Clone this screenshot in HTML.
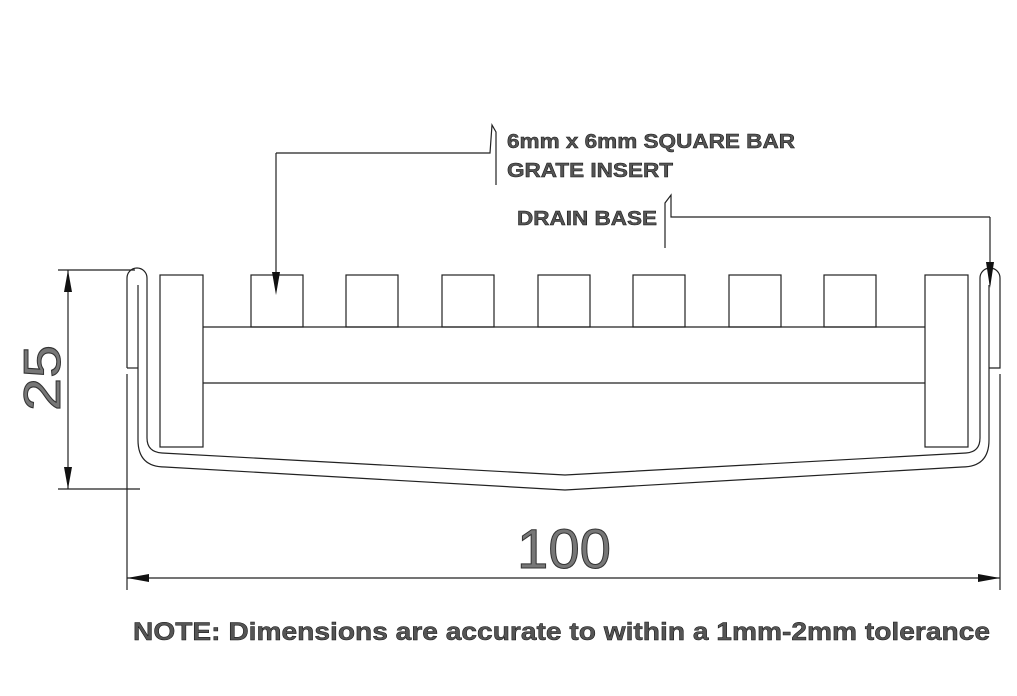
<!DOCTYPE html>
<html><head><style>html,body{margin:0;padding:0;background:#fff;}svg{display:block}</style></head>
<body>
<svg width="1017" height="696" viewBox="0 0 1017 696" xmlns="http://www.w3.org/2000/svg" font-family="Liberation Sans, sans-serif">
<g fill="none" stroke="#222" stroke-width="1.2">
<path d="M127,368 L127,278 A10,10 0 0 1 147,278 L147,438 Q147,452 162,453 L565,475 L966,453 Q980,452 980,438 L980,278 A10,10 0 0 1 1000,278 L1000,368 L989,368"/>
<path d="M127,368 L138,368"/>
<path d="M138,285 L138,440 Q138,467 165,467 L565,490 L962,467 Q989,467 989,440 L989,285"/>
<rect x="160" y="275" width="43" height="172"/>
<rect x="925" y="275" width="43" height="172"/>
<line x1="203" y1="327" x2="925" y2="327"/>
<line x1="203" y1="383" x2="925" y2="383"/>
<rect x="251" y="275" width="52" height="52"/>
<rect x="346" y="275" width="52" height="52"/>
<rect x="442" y="275" width="52" height="52"/>
<rect x="538" y="275" width="52" height="52"/>
<rect x="633" y="275" width="52" height="52"/>
<rect x="729" y="275" width="52" height="52"/>
<rect x="824" y="275" width="52" height="52"/>
<line x1="58" y1="270" x2="135" y2="270"/>
<line x1="58" y1="489" x2="140" y2="489"/>
<line x1="68" y1="270" x2="68" y2="489"/>
<line x1="127" y1="374" x2="127" y2="590"/>
<line x1="1000" y1="374" x2="1000" y2="590"/>
<line x1="127" y1="578" x2="1000" y2="578"/>
<path d="M276,153 L490,153 L492,125 L496,132 L496,185"/>
<line x1="276" y1="153" x2="276" y2="275"/>
<path d="M990,217 L671,217 L671,195 L665,203 L665,248"/>
<line x1="990" y1="217" x2="990" y2="285"/>
</g>
<g fill="#111">
<polygon points="68,270 64,292 72,292"/>
<polygon points="68,489 64,467 72,467"/>
<polygon points="127,578 149,574 149,582"/>
<polygon points="1000,578 978,574 978,582"/>
<polygon points="276,295 272,272 280,272"/>
<polygon points="990,288 986,262 994,262"/>
</g>
<g font-size="20" font-weight="bold" fill="#555" stroke="#111" stroke-width="0.5">
<text x="507" y="148" textLength="288" lengthAdjust="spacingAndGlyphs">6mm x 6mm SQUARE BAR</text>
<text x="507" y="177" textLength="166" lengthAdjust="spacingAndGlyphs">GRATE INSERT</text>
<text x="517" y="225" textLength="140" lengthAdjust="spacingAndGlyphs">DRAIN BASE</text>
<text x="133" y="640" font-size="25" textLength="857" lengthAdjust="spacingAndGlyphs">NOTE: Dimensions are accurate to within a 1mm-2mm tolerance</text>
</g>
<g fill="#777" stroke="#333" stroke-width="1">
<text x="517" y="568" font-size="56" textLength="94" lengthAdjust="spacingAndGlyphs">100</text>
<text transform="translate(60,411) rotate(-90)" font-size="52" textLength="66" lengthAdjust="spacingAndGlyphs">25</text>
</g>
</svg>
</body></html>
